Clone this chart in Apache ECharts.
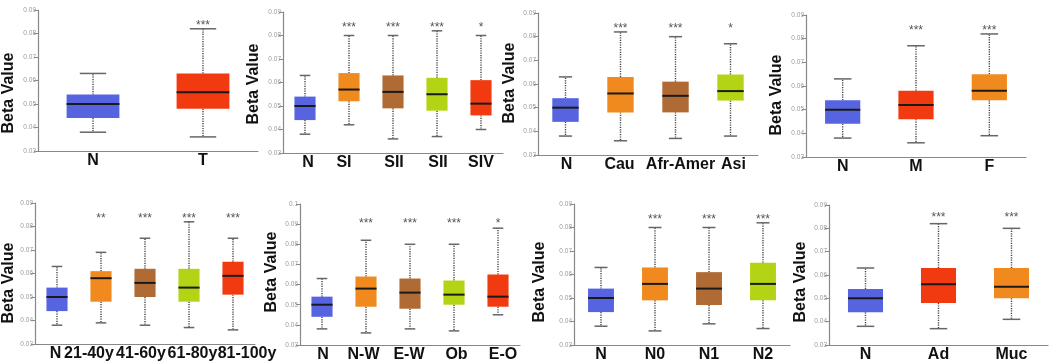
<!DOCTYPE html>
<html><head><meta charset="utf-8">
<script src="https://cdn.jsdelivr.net/npm/echarts@6/dist/echarts.min.js"></script>
<style>html,body{margin:0;padding:0;background:#fff}#c{width:1052px;height:363px}</style>
</head><body><div id="c"></div>
<script>
// ---------- DATA (min, Q1, median, Q3, max) ----------
const catsTumor = ['N', 'T'];
const boxTumor = [[0.038,0.044,0.050,0.054,0.063],[0.036,0.048,0.055,0.063,0.082]];
const sigTumor = ['', '***'];

const catsStage = ['N', 'SI', 'SII', 'SII', 'SIV'];
const boxStage = [[0.038,0.044,0.050,0.054,0.063],[0.042,0.052,0.057,0.064,0.080],[0.036,0.049,0.056,0.063,0.080],[0.037,0.048,0.055,0.062,0.082],[0.040,0.046,0.051,0.061,0.080]];
const sigStage = ['', '***', '***', '***', '*'];

const catsRace = ['N', 'Cau', 'Afr-Amer', 'Asi'];
const boxRace = [[0.038,0.044,0.050,0.054,0.063],[0.036,0.048,0.056,0.063,0.082],[0.037,0.048,0.055,0.061,0.080],[0.038,0.053,0.057,0.064,0.077]];
const sigRace = ['', '***', '***', '*'];

const catsGender = ['N', 'M', 'F'];
const boxGender = [[0.038,0.044,0.050,0.054,0.063],[0.036,0.046,0.052,0.058,0.077],[0.039,0.054,0.058,0.065,0.082]];
const sigGender = ['', '***', '***'];

const catsAge = ['N', '21-40y', '41-60y', '61-80y', '81-100y'];
const boxAge = [[0.038,0.044,0.050,0.054,0.063],[0.039,0.048,0.058,0.061,0.069],[0.038,0.050,0.056,0.062,0.075],[0.037,0.048,0.054,0.062,0.082],[0.036,0.051,0.059,0.065,0.075]];
const sigAge = ['', '**', '***', '***', '***'];

const catsWeight = ['N', 'N-W', 'E-W', 'Ob', 'E-O'];
const boxWeight = [[0.038,0.044,0.050,0.054,0.063],[0.036,0.049,0.058,0.064,0.082],[0.038,0.048,0.056,0.063,0.080],[0.037,0.050,0.055,0.062,0.080],[0.045,0.049,0.054,0.065,0.088]];
const sigWeight = ['', '***', '***', '***', '*'];

const catsNodal = ['N', 'N0', 'N1', 'N2'];
const boxNodal = [[0.038,0.044,0.050,0.054,0.063],[0.036,0.049,0.056,0.063,0.080],[0.039,0.047,0.054,0.061,0.080],[0.037,0.049,0.056,0.065,0.082]];
const sigNodal = ['', '***', '***', '***'];

const catsHist = ['N', 'Ad', 'Muc'];
const boxHist = [[0.038,0.044,0.050,0.054,0.063],[0.037,0.048,0.056,0.063,0.082],[0.041,0.050,0.055,0.063,0.080]];
const sigHist = ['', '***', '***'];

// y-axis ranges
const yRangeStd = [0.03, 0.09];
const yRangeWeight = [0.03, 0.10];
const yStep = 0.01;
const yName = 'Beta Value';

// ---------- STYLE / LAYOUT ----------
const FONT = '"Liberation Sans", Arial, sans-serif';
const C = { blue: '#5664E0', red: '#F23A10', orange: '#F08A1F', brown: '#B06B35', lime: '#B3D414' };

const panels = [
  { cats: catsTumor,  box: boxTumor,  sig: sigTumor,  yr: yRangeStd,    colors: [C.blue, C.red],
    grid: { left: 38, top: 10, width: 220, height: 141 }, name: [9, 93], sigAt: 0.0835, shift: [0, 0] },
  { cats: catsStage,  box: boxStage,  sig: sigStage,  yr: yRangeStd,    colors: [C.blue, C.orange, C.brown, C.lime, C.red],
    grid: { left: 283, top: 12, width: 220, height: 141 }, name: [254, 84], sigAt: 0.0835, shift: [3, -5, 1, 1, 0] },
  { cats: catsRace,   box: boxRace,   sig: sigRace,   yr: yRangeStd,    colors: [C.blue, C.orange, C.brown, C.lime],
    grid: { left: 538, top: 13, width: 220, height: 142 }, name: [510, 83], sigAt: 0.0835, shift: [1, -1, 5, 3] },
  { cats: catsGender, box: boxGender, sig: sigGender, yr: yRangeStd,    colors: [C.blue, C.red, C.orange],
    grid: { left: 806, top: 15, width: 220, height: 142 }, name: [777, 95], sigAt: 0.0833, shift: [0, 0, 0] },
  { cats: catsAge,    box: boxAge,    sig: sigAge,    yr: yRangeStd,    colors: [C.blue, C.orange, C.brown, C.lime, C.red],
    grid: { left: 35, top: 203, width: 220, height: 141 }, name: [9, 283], sigAt: 0.0833, shift: [-1.5, -12, -4, 3.5, 14] },
  { cats: catsWeight, box: boxWeight, sig: sigWeight, yr: yRangeWeight, colors: [C.blue, C.orange, C.brown, C.lime, C.red],
    grid: { left: 300, top: 204, width: 220, height: 141 }, name: [272, 272], sigAt: 0.0900, shift: [1, -2.5, -1, 2.5, 5] },
  { cats: catsNodal,  box: boxNodal,  sig: sigNodal,  yr: yRangeStd,    colors: [C.blue, C.orange, C.brown, C.lime],
    grid: { left: 574, top: 204, width: 216, height: 142 }, name: [540, 282], sigAt: 0.0835, shift: [0, 0, 0, 0] },
  { cats: catsHist,   box: boxHist,   sig: sigHist,   yr: yRangeStd,    colors: [C.blue, C.red, C.orange],
    grid: { left: 829, top: 205, width: 219, height: 142 }, name: [801, 282], sigAt: 0.0845, shift: [0, 0, 0] }
];

function makeRender(p) {
  return function (params, api) {
    const i = api.value(0);
    const mn = api.value(1), q1 = api.value(2), md = api.value(3), q3 = api.value(4), mx = api.value(5);
    const band = api.size([1, 0])[0];
    const bw = band * 0.48, cw = band * 0.24;
    const x = api.coord([i, md])[0];
    const yMin = api.coord([i, mn])[1], yQ1 = api.coord([i, q1])[1], yMd = api.coord([i, md])[1];
    const yQ3 = api.coord([i, q3])[1], yMax = api.coord([i, mx])[1];
    const ySig = api.coord([i, p.sigAt])[1];
    const dash = { stroke: '#444', lineWidth: 1.4, lineDash: [1.2, 1.2] };
    const cap = { stroke: '#666', lineWidth: 1.5 };
    const children = [
      { type: 'line', shape: { x1: x, y1: yQ3, x2: x, y2: yMax }, style: dash },
      { type: 'line', shape: { x1: x, y1: yQ1, x2: x, y2: yMin }, style: dash },
      { type: 'line', shape: { x1: x - cw / 2, y1: yMax, x2: x + cw / 2, y2: yMax }, style: cap },
      { type: 'line', shape: { x1: x - cw / 2, y1: yMin, x2: x + cw / 2, y2: yMin }, style: cap },
      { type: 'rect', shape: { x: x - bw / 2, y: yQ3, width: bw, height: yQ1 - yQ3 },
        style: { fill: p.colors[params.dataIndex], stroke: null } },
      { type: 'line', shape: { x1: x - bw / 2, y1: yMd, x2: x + bw / 2, y2: yMd },
        style: { stroke: '#1a1a1a', lineWidth: 2 } }
    ];
    const s = p.sig[params.dataIndex];
    if (s) {
      children.push({ type: 'text', x: x, y: ySig,
        style: { text: s, fill: '#555', fontSize: 12, fontFamily: FONT, align: 'center', verticalAlign: 'middle' } });
    }
    return { type: 'group', children: children };
  };
}

const option = { animation: false, backgroundColor: '#fff', grid: [], xAxis: [], yAxis: [], series: [], graphic: [] };

panels.forEach(function (p, k) {
  option.grid.push(Object.assign({ containLabel: false }, p.grid));
  const rich = {};
  p.shift.forEach(function (s, j) {
    rich['s' + j] = { fontSize: 16, fontWeight: 'bold', fontFamily: FONT, color: '#111',
      padding: s < 0 ? [0, -2 * s, 0, 0] : [0, 0, 0, 2 * s] };
  });
  option.xAxis.push({
    type: 'category', gridIndex: k, data: p.cats, boundaryGap: true,
    axisLine: { lineStyle: { color: '#888', width: 1.2 } },
    axisTick: { show: false },
    axisLabel: { interval: 0, margin: 2, fontSize: 16, fontWeight: 'bold', fontFamily: FONT, color: '#111',
      formatter: function (v, j) { return '{s' + j + '|' + v + '}'; }, rich: rich },
    splitLine: { show: false }
  });
  option.yAxis.push({
    type: 'value', gridIndex: k, min: p.yr[0], max: p.yr[1], interval: yStep,
    axisLine: { show: true, lineStyle: { color: '#888', width: 1.2 } },
    axisTick: { show: true, length: 4, lineStyle: { color: '#888' } },
    axisLabel: { fontSize: 6.5, color: '#999', margin: 2, fontFamily: FONT,
      formatter: function (v) { return String(Math.round(v * 100) / 100); } },
    splitLine: { show: false }
  });
  option.series.push({
    type: 'custom', xAxisIndex: k, yAxisIndex: k,
    renderItem: makeRender(p),
    dimensions: ['x', 'min', 'q1', 'median', 'q3', 'max'],
    encode: { x: 0, y: [1, 2, 3, 4, 5] },
    data: p.box.map(function (b, j) { return [j].concat(b); })
  });
  option.graphic.push({
    type: 'text', x: p.name[0], y: p.name[1], rotation: Math.PI / 2,
    style: { text: yName, fontSize: 16, fontWeight: 'bold', fontFamily: FONT, fill: '#111',
      align: 'center', verticalAlign: 'middle' }
  });
});

const chart = echarts.init(document.getElementById('c'), null, { renderer: 'canvas' });
chart.setOption(option);
</script>
</body></html>
